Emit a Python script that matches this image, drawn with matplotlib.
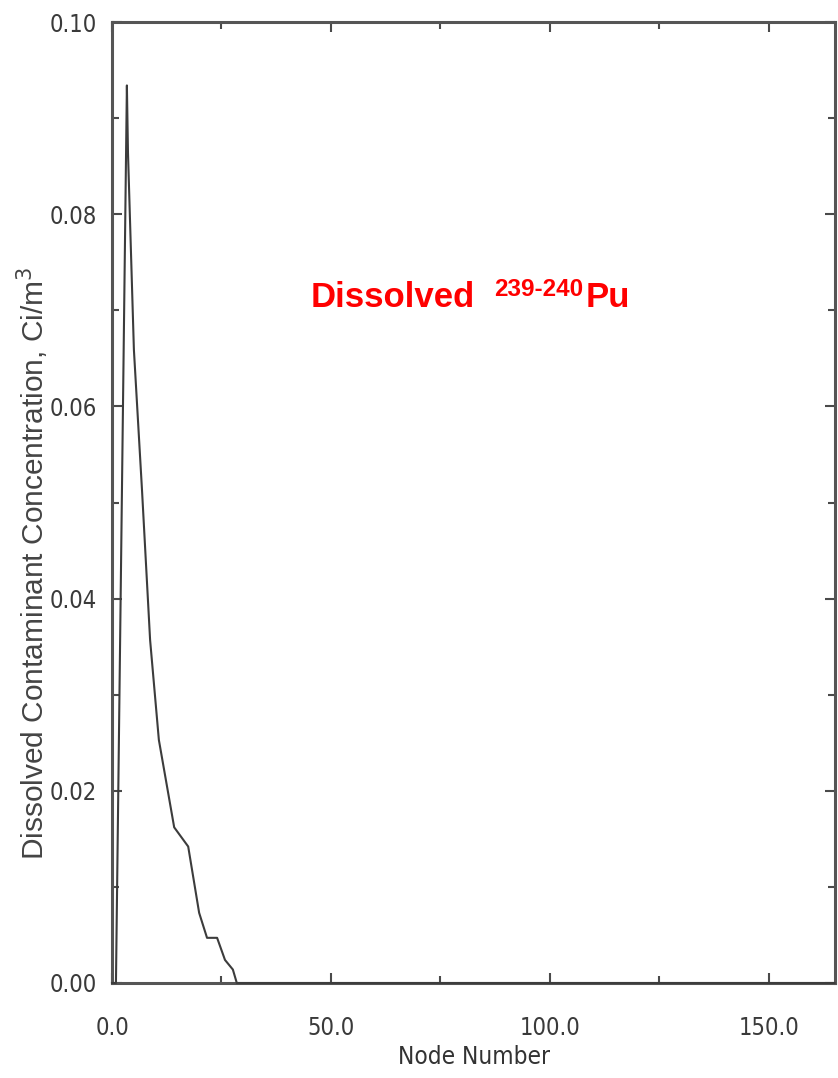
import matplotlib
matplotlib.use("Agg")
import matplotlib.pyplot as plt
from matplotlib.ticker import MultipleLocator, FixedLocator
from matplotlib.font_manager import FontProperties

# ---- data ----
node = [0.0, 0.9, 3.4, 3.65, 5.0, 6.85, 8.7, 10.7, 14.2, 17.4, 19.9, 21.7, 24.0, 25.8, 27.6, 28.5, 60.0, 110.0, 165.0]
conc = [0.0, 0.0, 0.0934, 0.0864, 0.0659, 0.0513, 0.0357, 0.0253, 0.0162, 0.0142, 0.0073, 0.0047, 0.0047, 0.0024, 0.0014, 0.0, 0.0, 0.0, 0.0]
xtick_vals = [0, 50, 100, 150]
xtick_labels = ["0.0", "50.0", "100.0", "150.0"]
ytick_vals = [0.00, 0.02, 0.04, 0.06, 0.08, 0.10]
ytick_labels = ["0.00", "0.02", "0.04", "0.06", "0.08", "0.10"]

W, H = 838, 1078
fig = plt.figure(figsize=(W / 100, H / 100), dpi=100)
ax = fig.add_axes([112 / W, (H - 983) / H, (835 - 112) / W, (983 - 22) / H])

gray = "#4a4a4a"
narrow = FontProperties(family=["DejaVu Sans"], stretch="condensed", size=17)

ax.plot(node, conc, color="#3c3c3c", lw=1.5, clip_on=False, zorder=3)
ax.set_xlim(0, 165.1)
ax.set_ylim(0, 0.1)

ax.xaxis.set_major_locator(FixedLocator(xtick_vals))
ax.set_xticklabels(xtick_labels)
ax.xaxis.set_minor_locator(MultipleLocator(25))
ax.yaxis.set_major_locator(FixedLocator(ytick_vals))
ax.set_yticklabels(ytick_labels)
ax.yaxis.set_minor_locator(MultipleLocator(0.01))

ax.tick_params(which="both", direction="in", top=True, right=True, color=gray, width=1.5)
ax.tick_params(which="major", length=7)
ax.tick_params(which="minor", length=5)
ax.tick_params(axis="x", which="major", pad=24, labelcolor="#3a3a3a")
ax.tick_params(axis="y", which="major", pad=11, labelcolor="#3a3a3a")
for lab in ax.get_xticklabels() + ax.get_yticklabels():
    lab.set_fontproperties(narrow)

for s in ax.spines.values():
    s.set_color("#555555")
    s.set_linewidth(2.2)

ax.set_xlabel("Node Number", fontproperties=FontProperties(family=["DejaVu Sans"], stretch="condensed", size=17.5),
              color="#333333", labelpad=3)
fig.text(33 / W, 1 - 563 / H, "Dissolved Contaminant Concentration, Ci/m$^3$",
         rotation=90, ha="center", va="center", fontsize=21.5, color="#444444",
         family=["Liberation Sans", "DejaVu Sans"])

# red annotation built from pieces
red = "#ff0000"
fig.canvas.draw()
r = fig.canvas.get_renderer()
base_y = 1 - 307 / H
t1 = fig.text(311 / W, base_y, "Dissolved", color=red, fontsize=25, fontweight="bold",
              family=["Liberation Sans", "DejaVu Sans"], va="baseline")
bb = t1.get_window_extent(r)
t2 = fig.text((bb.x1 + 19) / W, base_y + 11 / H, "239-240", color=red, fontsize=17.5, fontweight="bold",
              family=["Liberation Sans", "DejaVu Sans"], va="baseline")
bb2 = t2.get_window_extent(r)
fig.text((bb2.x1 + 2) / W, base_y, "Pu", color=red, fontsize=25, fontweight="bold",
         family=["Liberation Sans", "DejaVu Sans"], va="baseline")

fig.savefig("out.png", dpi=100)
